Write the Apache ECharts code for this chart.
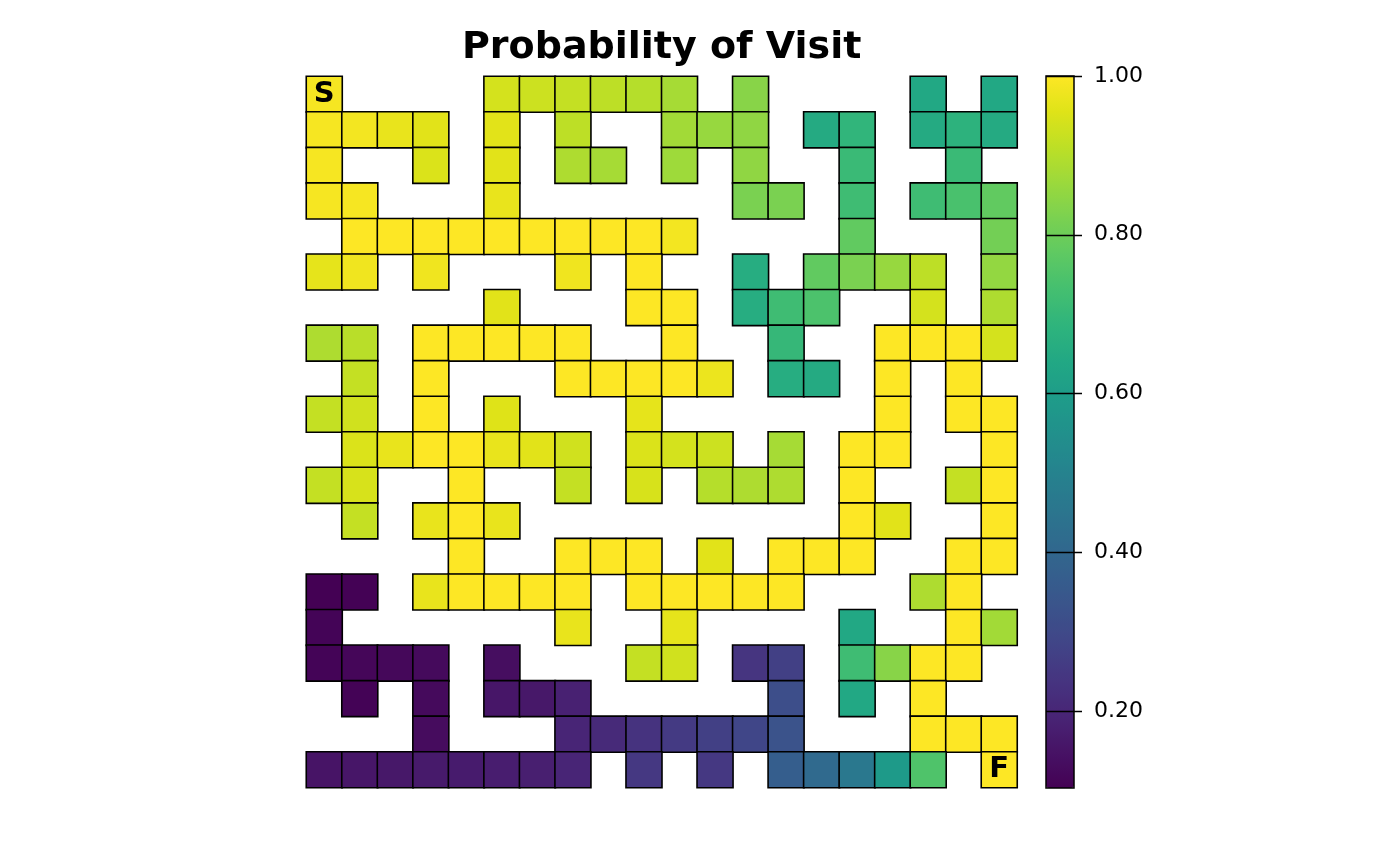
<!DOCTYPE html>
<html>
<head>
<meta charset="utf-8">
<script src="https://cdn.jsdelivr.net/npm/echarts@6/dist/echarts.min.js"></script>
<style>
html,body{margin:0;padding:0;background:#fff;}
#chart{width:1400px;height:865px;}
</style>
</head>
<body>
<div id="chart"></div>
<script>
const _ = null;
// Probability of visit per maze cell, rows top to bottom, columns left to right (null = wall)
const r00 = [0.99,_,_,_,_,0.94,0.93,0.92,0.91,0.90,0.88,_,0.84,_,_,_,_,0.64,_,0.64];
const r01 = [0.99,0.985,0.97,0.96,_,0.96,_,0.91,_,_,0.875,0.86,0.85,_,0.65,0.69,_,0.65,0.68,0.65];
const r02 = [0.99,_,_,0.95,_,0.96,_,0.89,0.88,_,0.87,_,0.85,_,_,0.71,_,_,0.71,_];
const r03 = [0.99,0.99,_,_,_,0.97,_,_,_,_,_,_,0.82,0.82,_,0.72,_,0.72,0.74,0.78];
const r04 = [_,1.0,1.0,1.0,1.0,1.0,1.0,1.0,1.0,1.0,0.985,_,_,_,_,0.78,_,_,_,0.81];
const r05 = [0.965,0.98,_,0.98,_,_,_,0.98,_,1.0,_,_,0.66,_,0.78,0.82,0.86,0.91,_,0.855];
const r06 = [_,_,_,_,_,0.96,_,_,_,1.0,1.0,_,0.66,0.72,0.745,_,_,0.94,_,0.89];
const r07 = [0.89,0.905,_,1.0,1.0,1.0,1.0,1.0,_,_,1.0,_,_,0.70,_,_,1.0,1.0,1.0,0.94];
const r08 = [_,0.92,_,1.0,_,_,_,1.0,1.0,1.0,1.0,0.975,_,0.66,0.65,_,1.0,_,1.0,_];
const r09 = [0.92,0.935,_,1.0,_,0.955,_,_,_,0.965,_,_,_,_,_,_,1.0,_,1.0,1.0];
const r10 = [_,0.95,0.97,1.0,1.0,0.97,0.96,0.935,_,0.95,0.94,0.93,_,0.88,_,1.0,1.0,_,_,1.0];
const r11 = [0.92,0.945,_,_,1.0,_,_,0.92,_,0.945,_,0.90,0.89,0.89,_,1.0,_,_,0.92,1.0];
const r12 = [_,0.92,_,0.97,1.0,0.97,_,_,_,_,_,_,_,_,_,1.0,0.96,_,_,1.0];
const r13 = [_,_,_,_,1.0,_,_,1.0,1.0,1.0,_,0.96,_,1.0,1.0,1.0,_,_,1.0,1.0];
const r14 = [0.103,0.105,_,0.97,1.0,1.0,1.0,1.0,_,1.0,1.0,1.0,1.0,1.0,_,_,_,0.89,1.0,_];
const r15 = [0.11,_,_,_,_,_,_,0.97,_,_,0.965,_,_,_,_,0.64,_,_,1.0,0.875];
const r16 = [0.11,0.115,0.12,0.125,_,0.135,_,_,_,0.92,0.935,_,0.24,0.27,_,0.72,0.84,1.0,1.0,_];
const r17 = [_,0.107,_,0.125,_,0.155,0.16,0.185,_,_,_,_,_,0.315,_,0.64,_,1.0,_,_];
const r18 = [_,_,_,0.13,_,_,_,0.195,0.21,0.235,0.255,0.27,0.29,0.33,_,_,_,1.0,1.0,1.0];
const r19 = [0.15,0.155,0.16,0.165,0.17,0.175,0.18,0.195,_,0.25,_,0.25,_,0.37,0.41,0.46,0.59,0.75,_,1.0];
const gridRows = [r00,r01,r02,r03,r04,r05,r06,r07,r08,r09,r10,r11,r12,r13,r14,r15,r16,r17,r18,r19];

const colCategories = ['1','2','3','4','5','6','7','8','9','10','11','12','13','14','15','16','17','18','19','20'];
const rowCategories = ['1','2','3','4','5','6','7','8','9','10','11','12','13','14','15','16','17','18','19','20'];
const startCell = [0, 0];
const finishCell = [19, 19];
const colorbarTicks = [0.2, 0.4, 0.6, 0.8, 1.0];
const valueMin = 0.103;
const valueMax = 1.0;

const viridis = ['#440154','#471365','#482475','#463480','#414487','#3b528b','#355f8d','#2f6c8e','#2a788e','#25848e','#21918c','#1e9c89','#22a884','#2fb47c','#44bf70','#5ec962','#7ad151','#9bd93c','#bddf26','#dfe318','#fde725'];

const heatData = [];
gridRows.forEach((row, ri) => {
  row.forEach((v, ci) => {
    if (v === null) return;
    const item = { value: [ci, ri, v] };
    if (ci === startCell[0] && ri === startCell[1]) item.label = { show: true, formatter: 'S' };
    if (ci === finishCell[0] && ri === finishCell[1]) item.label = { show: true, formatter: 'F' };
    heatData.push(item);
  });
});

const chart = echarts.init(document.getElementById('chart'), null, { renderer: 'canvas' });
chart.setOption({
  animation: false,
  backgroundColor: '#ffffff',
  textStyle: { fontFamily: 'DejaVu Sans' },
  title: {
    text: 'Probability of Visit',
    left: 462,
    top: 29,
    padding: 0,
    textStyle: { fontFamily: 'DejaVu Sans', fontWeight: 'bold', fontSize: 38, color: '#000' }
  },
  grid: [
    { left: 306.5, top: 76.5, width: 710.5, height: 711, containLabel: false },
    { left: 1046, top: 76, width: 36, height: 712, containLabel: false }
  ],
  xAxis: [
    { type: 'category', data: colCategories, gridIndex: 0, show: false },
    { type: 'value', gridIndex: 1, show: false, min: 0, max: 1 }
  ],
  yAxis: [
    { type: 'category', data: rowCategories, gridIndex: 0, inverse: true, show: false },
    {
      type: 'value', gridIndex: 1, min: valueMin, max: valueMax, position: 'left', z: 10,
      axisLine: { show: false },
      splitLine: { show: false },
      axisTick: { show: true, inside: true, length: 36, customValues: colorbarTicks, lineStyle: { color: '#000', width: 1.3 } },
      axisLabel: { show: true, inside: true, customValues: colorbarTicks, margin: 48, fontSize: 22, color: '#000', fontFamily: 'DejaVu Sans', formatter: v => v.toFixed(2) }
    }
  ],
  visualMap: {
    type: 'continuous',
    seriesIndex: 0,
    z: 1,
    min: valueMin,
    max: valueMax,
    calculable: false,
    hoverLink: false,
    orient: 'vertical',
    left: 1046,
    top: 76,
    padding: 0,
    itemWidth: 28,
    itemHeight: 712,
    inRange: { color: viridis }
  },
  graphic: [
    { type: 'rect', z: 100, shape: { x: 1046, y: 76, width: 28, height: 712 }, style: { fill: 'none', stroke: '#000', lineWidth: 1.5 } }
  ],
  series: [{
    type: 'heatmap',
    xAxisIndex: 0,
    yAxisIndex: 0,
    data: heatData,
    itemStyle: { borderColor: '#000', borderWidth: 1.6 },
    label: { show: false, color: '#000', fontSize: 29, fontWeight: 'bold', fontFamily: 'DejaVu Sans' },
    emphasis: { disabled: true }
  }]
});
</script>
</body>
</html>
